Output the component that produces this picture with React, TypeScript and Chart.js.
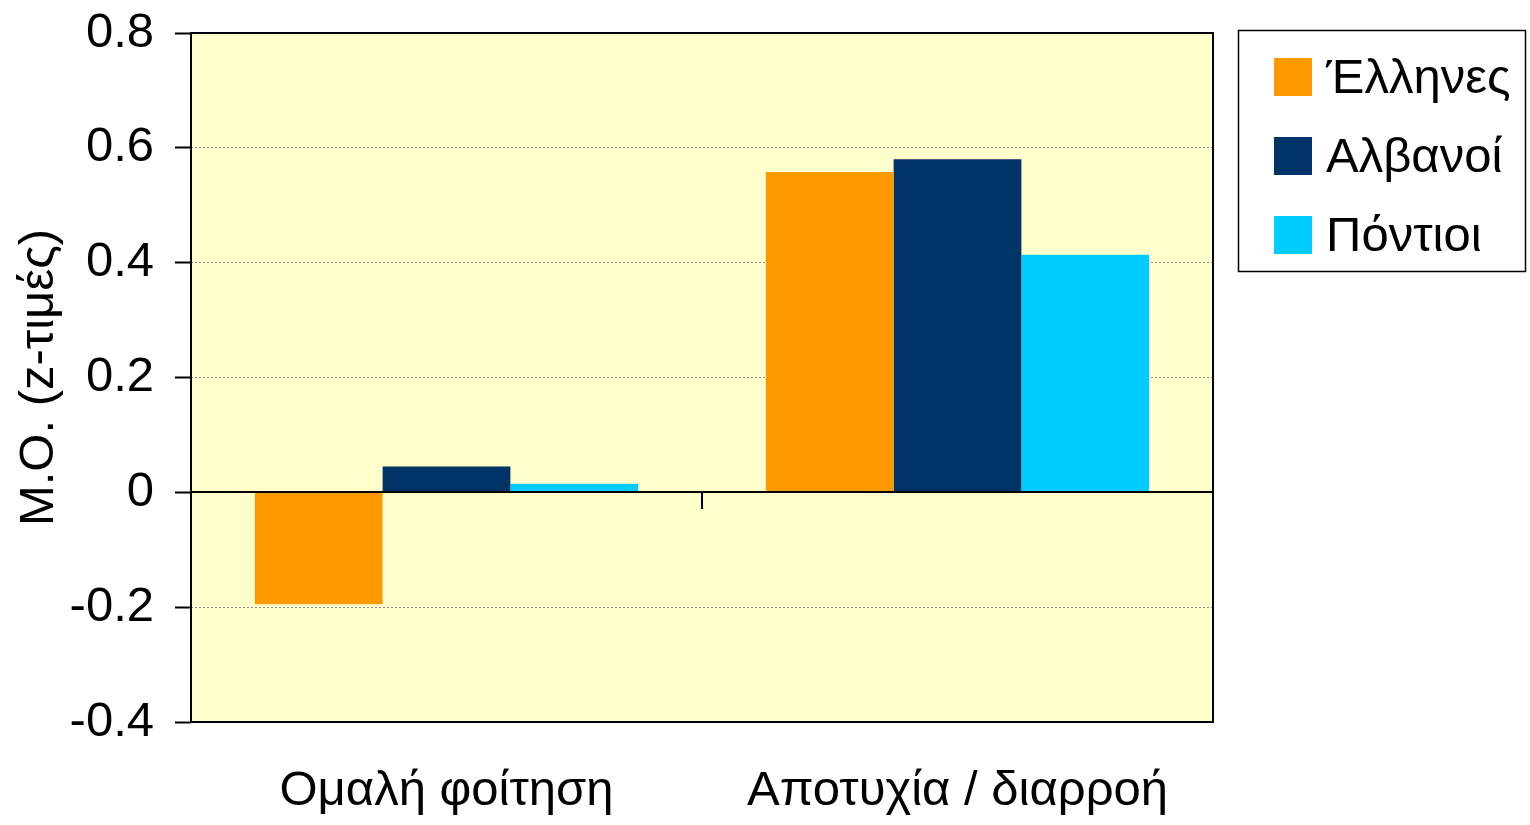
import React, { useEffect, useRef } from "react";
import { Chart, registerables } from "chart.js";

Chart.register(...registerables);

const categories = ["Ομαλή φοίτηση", "Αποτυχία / διαρροή"];
const seriesNames = ["Έλληνες", "Αλβανοί", "Πόντιοι"];
const greeks = [-0.195, 0.558];
const albanians = [0.045, 0.58];
const pontians = [0.015, 0.414];
const seriesColors = ["#FF9900", "#003366", "#00CCFF"];
const yMin = -0.4;
const yMax = 0.8;
const yStep = 0.2;
const yTitle = "Μ.Ο. (z-τιμές)";

const FONT = "'Liberation Sans Narrow', 'Arial Narrow', 'Liberation Sans', Arial, sans-serif";
const FS = 49;
const W = 1530;
const H = 825;

const framePlugin = {
  id: "framePlugin",
  beforeDraw(chart: any) {
    const { ctx, chartArea } = chart;
    ctx.save();
    ctx.fillStyle = "#FFFFCC";
    ctx.fillRect(chartArea.left, chartArea.top, chartArea.right - chartArea.left, chartArea.bottom - chartArea.top);
    ctx.restore();
  },
  afterDatasetsDraw(chart: any) {
    const { ctx, chartArea, scales } = chart;
    const y0 = Math.round(scales.y.getPixelForValue(0));
    ctx.save();
    ctx.strokeStyle = "#000";
    ctx.lineWidth = 2;
    ctx.beginPath();
    ctx.moveTo(chartArea.left, y0);
    ctx.lineTo(chartArea.right, y0);
    ctx.stroke();
    const xm = Math.round((scales.x.getPixelForValue(0) + scales.x.getPixelForValue(1)) / 2);
    ctx.beginPath();
    ctx.moveTo(xm, y0);
    ctx.lineTo(xm, y0 + 17);
    ctx.stroke();
    ctx.strokeRect(chartArea.left, chartArea.top, chartArea.right - chartArea.left, chartArea.bottom - chartArea.top);
    ctx.restore();
  },
  afterDraw(chart: any) {
    const { ctx } = chart;
    const lx = 1238, ly = 30, lw = 287, lh = 241;
    ctx.save();
    ctx.fillStyle = "#fff";
    ctx.fillRect(lx, ly, lw, lh);
    ctx.strokeStyle = "#000";
    ctx.lineWidth = 1.5;
    ctx.strokeRect(lx + 0.5, ly + 0.5, lw, lh);
    ctx.font = `${FS}px ${FONT}`;
    ctx.textBaseline = "middle";
    ctx.textAlign = "left";
    chart.data.datasets.forEach((ds: any, i: number) => {
      const top = 58 + i * 79;
      ctx.fillStyle = ds.backgroundColor;
      ctx.fillRect(1274, top, 38, 38);
      ctx.fillStyle = "#000";
      ctx.fillText(ds.label, 1326, top + 21);
    });
    ctx.restore();
  },
};

export default function App() {
  const ref = useRef<HTMLCanvasElement | null>(null);
  useEffect(() => {
    if (!ref.current) return;
    const chart = new Chart(ref.current, {
      type: "bar",
      data: {
        labels: categories,
        datasets: [greeks, albanians, pontians].map((d, i) => ({
          label: seriesNames[i],
          data: d,
          backgroundColor: seriesColors[i],
          borderWidth: 0,
          categoryPercentage: 0.75,
          barPercentage: 1.0,
        })),
      },
      options: {
        responsive: false,
        animation: false,
        layout: { padding: { top: 33, right: 317, bottom: 0, left: 0 } },
        plugins: { legend: { display: false }, tooltip: { enabled: false } },
        scales: {
          x: {
            position: "bottom",
            grid: { display: false, drawTicks: false },
            border: { display: false },
            ticks: { color: "#000", font: { family: FONT, size: FS }, padding: 40, maxRotation: 0 },
            afterFit: (s: any) => {
              s.height = H - 722;
              s.paddingLeft = 0;
              s.paddingRight = 0;
            },
          },
          y: {
            min: yMin,
            max: yMax,
            ticks: {
              stepSize: yStep,
              color: "#000",
              font: { family: FONT, size: FS },
              padding: 21,
              callback: (v: any) => Number(Number(v).toFixed(1)).toString(),
            },
            grid: { color: "#8a8a8a", lineWidth: 1, tickColor: "#000", tickLength: 16, tickWidth: 2 },
            border: { display: false, dash: [2, 2] },
            title: {
              display: true,
              text: yTitle,
              color: "#000",
              font: { family: FONT, size: FS },
              padding: { top: 10, bottom: 0 },
            },
            afterFit: (s: any) => {
              s.width = 191;
              s.paddingTop = 0;
              s.paddingBottom = 0;
            },
          },
        },
      },
      plugins: [framePlugin],
    });
    return () => chart.destroy();
  }, []);
  return (
    <div style={{ position: "fixed", left: 0, top: 0, width: W, height: H, background: "#fff" }}>
      <canvas ref={ref} width={W} height={H} style={{ display: "block" }} />
    </div>
  );
}
